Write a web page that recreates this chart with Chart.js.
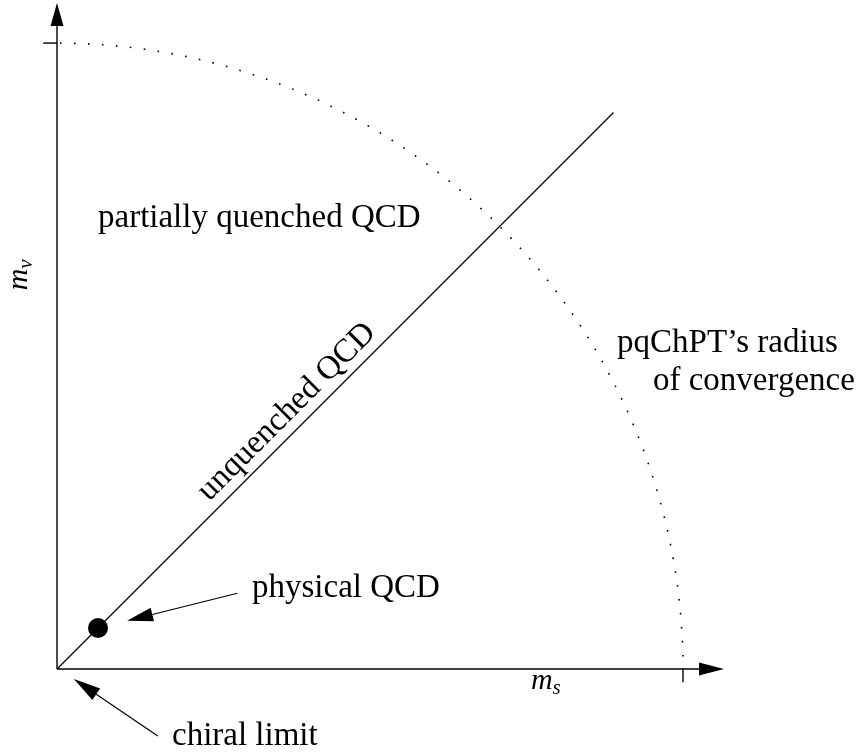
<!DOCTYPE html>
<html><head><meta charset="utf-8">
<script src="https://cdn.jsdelivr.net/npm/chart.js@4/dist/chart.umd.min.js"></script>
<style>html,body{margin:0;padding:0;background:#fff}#wrap{width:862px;height:754px;position:relative}</style>
</head><body><div id="wrap"><canvas id="c"></canvas></div>
<script>
// ---- data (in units of pqChPT's radius of convergence) ----
const axisExtentX = 1.0655;          // arrow tip of m_s axis
const axisExtentY = 1.064;           // arrow tip of m_v axis
const tickValuesX = [1];
const tickValuesY = [1];
const convergenceRadius = 1;
const unquenchedMs = [0, 0.889];     // m_v = m_s line
const unquenchedMv = [0, 0.889];
const physicalMs = [0.0655];
const physicalMv = [0.0655];
const arrowPhysicalFrom = [0.288, 0.121];
const arrowPhysicalTo = [0.112, 0.077];
const arrowChiralFrom = [0.161, -0.107];
const arrowChiralTo = [0.027, -0.016];
const labelTexts = ["partially quenched QCD", "pqChPT\u2019s radius", "of convergence", "physical QCD", "chiral limit"];
const labelMs = [0.0655, 0.8946, 0.952, 0.3115, 0.1837];
const labelMv = [0.706, 0.5064, 0.4457, 0.115, -0.1214];
const diagLabel = "unquenched QCD";
const diagLabelPos = [0.377, 0.401];
const axisTitleX = ["m", "s"];
const axisTitleY = ["m", "v"];
const axisTitleXPos = [0.757, -0.032];
const axisTitleYPos = [-0.048, 0.605];

const FONT = "'Liberation Serif','Times New Roman',serif";

function arrow(ctx, x0, y0, x1, y1, len, hw) {
  const a = Math.atan2(y1 - y0, x1 - x0);
  const bx = x1 - len * Math.cos(a), by = y1 - len * Math.sin(a);
  ctx.beginPath(); ctx.moveTo(x0, y0); ctx.lineTo(bx, by); ctx.stroke();
  ctx.beginPath(); ctx.moveTo(x1, y1);
  ctx.lineTo(bx + hw * Math.sin(a), by - hw * Math.cos(a));
  ctx.lineTo(bx - hw * Math.sin(a), by + hw * Math.cos(a));
  ctx.closePath(); ctx.fill();
}

const sketch = {
  id: 'sketch',
  beforeDatasetsDraw(chart) {
    const { ctx, scales: { x, y } } = chart;
    const X = v => x.getPixelForValue(v), Y = v => y.getPixelForValue(v);
    ctx.save();
    ctx.strokeStyle = '#000'; ctx.fillStyle = '#000';
    // dotted radius of convergence
    const cx = X(0), cy = Y(0);
    const rx = X(convergenceRadius) - cx, ry = cy - Y(convergenceRadius);
    ctx.lineWidth = 1.6; ctx.setLineDash([1.6, 12.4]); ctx.lineDashOffset = -3;
    ctx.beginPath(); ctx.ellipse(cx, cy, rx, ry, 0, -Math.PI / 2, 0); ctx.stroke();
    ctx.setLineDash([]);
    // axes with arrows
    ctx.lineWidth = 1.4;
    arrow(ctx, X(0), Y(0), X(axisExtentX), Y(0), 25, 6.5);
    arrow(ctx, X(0), Y(0), X(0), Y(axisExtentY), 23, 6.5);
    // ticks
    const tl = 0.021;
    tickValuesX.forEach(v => { ctx.beginPath(); ctx.moveTo(X(v), Y(0)); ctx.lineTo(X(v), Y(-tl)); ctx.stroke(); });
    tickValuesY.forEach(v => { ctx.beginPath(); ctx.moveTo(X(0), Y(v)); ctx.lineTo(X(-tl - 0.001), Y(v)); ctx.stroke(); });
    ctx.restore();
  },
  afterDatasetsDraw(chart) {
    const { ctx, scales: { x, y } } = chart;
    const X = v => x.getPixelForValue(v), Y = v => y.getPixelForValue(v);
    ctx.save();
    ctx.strokeStyle = '#000'; ctx.fillStyle = '#000';
    ctx.lineWidth = 1.2;
    arrow(ctx, X(arrowPhysicalFrom[0]), Y(arrowPhysicalFrom[1]), X(arrowPhysicalTo[0]), Y(arrowPhysicalTo[1]), 26, 7);
    arrow(ctx, X(arrowChiralFrom[0]), Y(arrowChiralFrom[1]), X(arrowChiralTo[0]), Y(arrowChiralTo[1]), 27, 7);
    // labels
    ctx.font = `33px ${FONT}`; ctx.textBaseline = 'alphabetic'; ctx.textAlign = 'left';
    labelTexts.forEach((t, i) => ctx.fillText(t, X(labelMs[i]), Y(labelMv[i])));
    // diagonal label
    ctx.save();
    ctx.translate(X(diagLabelPos[0]), Y(diagLabelPos[1]));
    ctx.rotate(-Math.PI / 4);
    ctx.textAlign = 'center';
    ctx.fillText(diagLabel, 0, 0);
    ctx.restore();
    // axis titles
    const drawSub = (pair, px, py, rot) => {
      ctx.save(); ctx.translate(px, py); ctx.rotate(rot); ctx.textAlign = 'left';
      ctx.font = `italic 30px ${FONT}`; ctx.fillText(pair[0], 0, 0);
      const w = ctx.measureText(pair[0]).width;
      ctx.font = `italic 21px ${FONT}`; ctx.fillText(pair[1], w, 5);
      ctx.restore();
    };
    drawSub(axisTitleX, X(axisTitleXPos[0]), Y(axisTitleXPos[1]), 0);
    drawSub(axisTitleY, X(axisTitleYPos[0]), Y(axisTitleYPos[1]), -Math.PI / 2);
    ctx.restore();
  }
};

new Chart(document.getElementById('c'), {
  type: 'scatter',
  data: {
    datasets: [
      {
        type: 'line',
        data: unquenchedMs.map((v, i) => ({ x: v, y: unquenchedMv[i] })),
        borderColor: '#000', borderWidth: 1.3, pointRadius: 0, fill: false, tension: 0, clip: false
      },
      {
        data: physicalMs.map((v, i) => ({ x: v, y: physicalMv[i] })),
        backgroundColor: '#000', borderColor: '#000', borderWidth: 0, pointRadius: 10, clip: false
      }
    ]
  },
  options: {
    responsive: true, maintainAspectRatio: false, animation: false, events: [],
    layout: { autoPadding: false, padding: { left: 57, right: 138, top: 3, bottom: 85 } },
    plugins: { legend: { display: false }, tooltip: { enabled: false } },
    scales: {
      x: { type: 'linear', min: 0, max: axisExtentX, display: false },
      y: { type: 'linear', min: 0, max: axisExtentY, display: false }
    }
  },
  plugins: [sketch]
});
</script>
</body></html>
